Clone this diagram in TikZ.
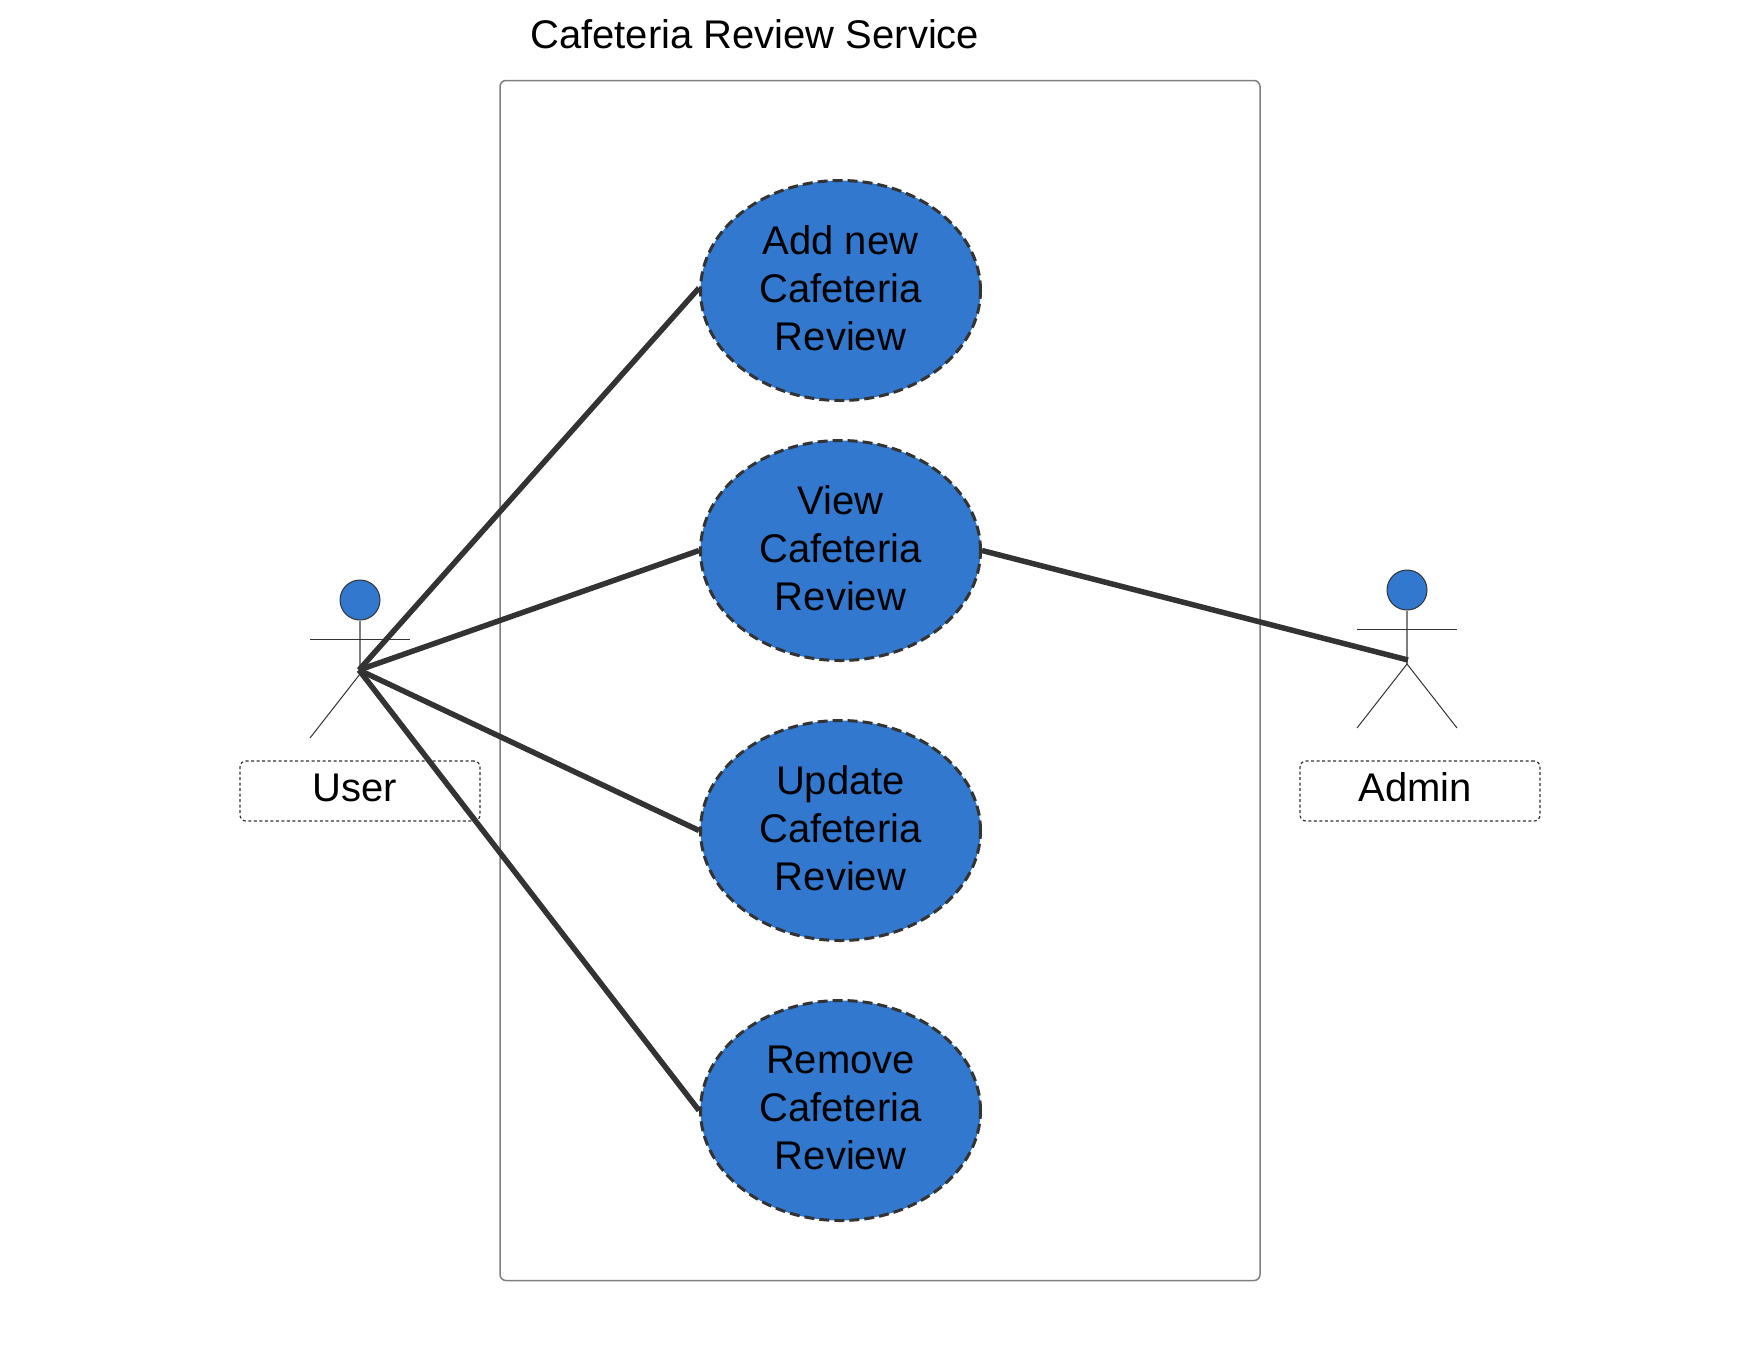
\documentclass[tikz,border=0pt]{standalone}
\usepackage{fontspec}
\setmainfont{Liberation Sans}
\usetikzlibrary{shapes.geometric}
\definecolor{usecaseblue}{HTML}{3178CE}
\definecolor{darkline}{HTML}{333333}
\definecolor{boxline}{HTML}{7F7F7F}
\begin{document}
\begin{tikzpicture}[%
	x=1pt,y=-1pt,%
	every node/.style={font=\fontsize{40}{48}\selectfont},%
	usecase/.style={ellipse, draw=darkline, fill=usecaseblue, line width=3pt, dash pattern=on 10pt off 5pt, minimum width=280pt, minimum height=220pt, inner sep=0pt, align=center, text depth=5pt},%
	actorhead/.style={circle, draw=darkline, fill=usecaseblue, line width=1pt, minimum size=40pt, inner sep=0pt},%
	namebox/.style={draw=darkline, line width=1.2pt, dash pattern=on 3pt off 2.5pt, rounded corners=6pt, minimum width=240pt, minimum height=60pt, inner sep=0pt},%
	nametext/.style={anchor=base, inner sep=0pt},%
	limb/.style={draw=darkline, line width=1pt},%
	link/.style={draw=darkline, line width=5.5pt},%
	]
	\useasboundingbox (0,0) rectangle (1760,1358);
%%% system
	\node [draw=boxline, line width=1.5pt, rounded corners=6pt, minimum width=760pt, minimum height=1200pt, inner sep=0pt] (system) at (880,680.5) {};
	\node [anchor=base west, inner sep=0pt] (title) at (530,48) {Cafeteria Review Service};
%%% system
%%% actors
	\foreach \actor/\x/\y in {user/360/600,admin/1407/590}
		{
		\node [actorhead] (\actor head) at (\x,\y) {};
		\coordinate (\actor hip) at (\x,\y+74);
		\coordinate (\actor lfoot) at (\x-50,\y+138);
		\coordinate (\actor rfoot) at (\x+50,\y+138);
		\coordinate (\actor larm) at (\x-50,\y+39.5);
		\coordinate (\actor rarm) at (\x+50,\y+39.5);
		\draw [boxline, line width=1.5pt] (\actor head) -- (\actor hip);
		\draw [limb] (\actor larm) -- (\actor rarm);
		\draw [limb] (\actor lfoot) -- (\actor hip) -- (\actor rfoot);
		}
	\coordinate (userend) at (359,670);
	\coordinate (adminend) at (1408,660);
	\node [namebox] (userbox) at (360,791) {};
	\node [namebox] (adminbox) at (1420,791) {};
	\node [nametext] (username) at (355,801) {User};
	\node [nametext] (adminname) at (1415,801) {Admin};
%%% actors
%%% use cases
	\foreach \case/\y/\label in {add/290.5/Add new,view/550.5/View,update/830.5/Update,remove/1110.5/Remove}
		{\node [usecase] (\case) at (840.5,\y) {\label\\Cafeteria\\Review};}
%%% use cases
%%% links
	\draw [link] (userend) -- ([yshift=2.5pt]add.west);
	\foreach \case in {view,update,remove}
		{\draw [link] (userend) -- (\case.west);}
	\draw [link] (view.east) -- (adminend);
%%% links
\end{tikzpicture}
\end{document}
